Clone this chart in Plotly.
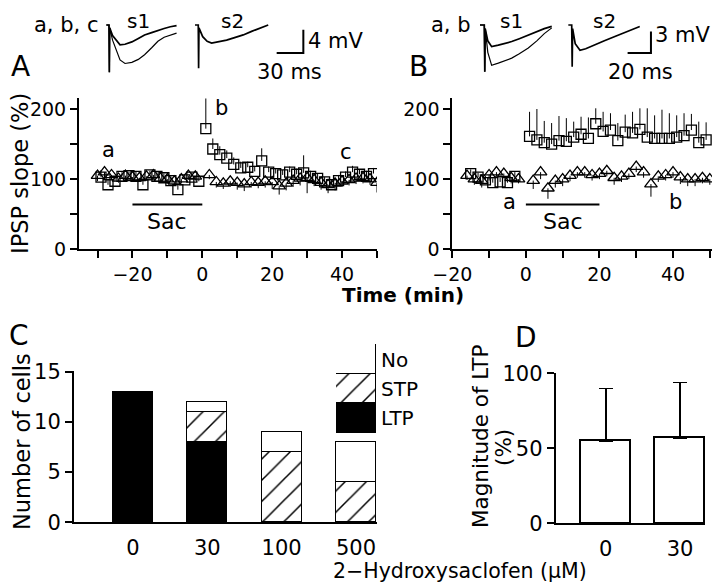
import plotly.graph_objects as go

W, H = 720, 588
OFF = 8  # page margin of the html body
FONT = "DejaVu Sans"


def fx(p):
    return (p - OFF) / W


def fy(p):
    return 1 - (p - OFF) / H


# ---------------- panel A : IPSP slope (%) vs time (min)
a_sq_t = [-29, -27, -25, -23, -21, -19, -17, -15, -13, -11, -9, -7, -5, -3, -1,
          1, 3, 5, 7, 9, 11, 13, 15, 17, 19, 21, 23, 25, 27, 29, 31, 33, 35, 37, 39,
          41, 43, 45, 47, 49]
a_sq_y = [103, 92, 97, 104, 105, 104, 92, 106, 104, 102, 98, 85, 99, 103, 97,
          172, 143, 135, 130, 121, 116, 117, 111, 126, 110, 108, 106, 110, 107, 109,
          104, 101, 96, 92, 98, 103, 110, 107, 104, 108]
a_sq_e = [10, 8, 7, 6, 6, 7, 6, 6, 6, 6, 6, 7, 6, 6, 8,
          43, 15, 12, 11, 10, 9, 8, 8, 18, 8, 8, 7, 8, 8, 25,
          8, 7, 7, 8, 8, 8, 9, 7, 8, 8]
a_tr_t = [-30, -28, -26, -24, -22, -20, -18, -16, -14, -12, -10, -8, -6, -4, -2,
          2, 4, 6, 8, 10, 12, 14, 16, 18, 20, 22, 24, 26, 28, 30, 32, 34, 36, 38, 40,
          42, 44, 46, 48, 50]
a_tr_y = [105, 110, 106, 101, 105, 103, 102, 104, 106, 101, 100, 97, 100, 105, 104,
          106, 96, 94, 97, 95, 93, 96, 95, 97, 96, 90, 94, 98, 101, 102,
          99, 95, 92, 94, 97, 99, 101, 102, 100, 95]
a_tr_e = [8, 10, 7, 6, 7, 6, 6, 6, 6, 6, 6, 6, 6, 6, 6,
          6, 8, 8, 8, 10, 10, 8, 8, 9, 10, 12, 10, 9, 10, 22,
          9, 10, 12, 10, 8, 8, 8, 8, 8, 14]
a_sac = [-20, 0]

# ---------------- panel B
b_sq_t = [-15, -13, -11, -9, -7, -5, -3,
          1, 3, 5, 7, 9, 11, 13, 15, 17, 19, 21, 23, 25, 27, 29, 31, 33, 35, 37, 39,
          41, 43, 45, 47, 49]
b_sq_y = [108, 103, 99, 95, 96, 95, 104,
          161, 156, 152, 150, 155, 154, 160, 164, 158, 179, 168, 170, 155, 167, 166,
          171, 160, 158, 158, 158, 160, 162, 170, 152, 156]
b_sq_e = [6, 6, 6, 6, 6, 6, 6,
          35, 44, 31, 30, 35, 33, 22, 25, 30, 22, 28, 24, 25, 25, 30, 30, 41, 33, 41,
          36, 31, 32, 23, 30, 25]
b_tr_t = [-16, -14, -12, -10, -8, -6, -4, -2,
          2, 4, 6, 8, 10, 12, 14, 16, 18, 20, 22, 24, 26, 28, 30, 32, 34, 36, 38, 40,
          42, 44, 46, 48, 50]
b_tr_y = [105, 100, 98, 106, 110, 108, 102, 100,
          98, 110, 87, 98, 100, 105, 110, 110, 106, 108, 112, 102, 104, 108, 118, 110,
          93, 104, 106, 110, 103, 100, 100, 102, 100]
b_tr_e = [6, 8, 10, 8, 6, 6, 8, 6,
          12, 10, 15, 10, 10, 8, 8, 8, 8, 8, 8, 10, 8, 8, 8, 8, 18, 8, 8, 8, 10, 10,
          10, 8, 8]
b_sac = [0, 20]

# ---------------- sample traces (ms, mV)
a_s1_t = [-3, 0, 0.4, 0.8, 4, 8.6, 12.4, 18, 25.7, 33, 40, 48, 55, 62, 69, 76]
a_s1_small = [0, 0, -8.1, -0.5, -1.8, -2.6, -3.4, -3.3, -2.9, -2.3, -1.7, -1.3, -0.9, -0.6, -0.3, -0.1]
a_s1_big = [0, 0, -8.1, -0.5, -2.6, -4.5, -6.0, -6.6, -6.4, -5.9, -5.1, -3.9, -2.8, -2.1, -1.7, -1.4]
a_s2_t = [-3.7, 0, 0.4, 0.8, 5, 10, 15, 22, 31.9, 40, 50.6, 60, 70, 78.7]
a_s2_v = [0, 0, -7.4, -0.5, -2.0, -2.8, -3.1, -2.9, -2.6, -2.2, -1.7, -1.1, -0.5, 0]
b_s1_t = [-3.7, 0, 0.4, 0.8, 3, 6.3, 12, 23.5, 30, 37.7, 45, 51.4, 57.8]
b_s1_small = [0, 0, -6.5, -0.5, -2.2, -3.0, -2.8, -2.3, -1.9, -1.4, -0.9, -0.5, -0.2]
b_s1_big = [0, 0, -6.5, -0.5, -3.8, -5.6, -5.3, -4.6, -4.0, -3.2, -2.2, -1.2, -0.4]
b_s2_t = [-2.9, 0, 0.4, 0.8, 3, 7.1, 12, 20, 28, 37, 47, 58.3]
b_s2_v = [0, 0, -5.8, -0.5, -2.6, -3.5, -3.3, -2.8, -2.2, -1.6, -0.9, -0.2]
a_scale_ms, a_scale_mv = 30, 4
b_scale_ms, b_scale_mv = 20, 3

# ---------------- panel C / D
conc = ["0", "30", "100", "500"]
n_ltp = [13, 8, 0, 0]
n_stp = [0, 3, 7, 4]
n_no = [0, 1, 2, 4]
key_names = ["LTP", "STP", "No"]

d_conc = ["0", "30"]
ltp_mag = [55, 57]
ltp_err = [35, 37]

fig = go.Figure()

sq_mk = dict(symbol="square-open", size=10, color="black", line=dict(width=1.3))
tr_mk = dict(symbol="triangle-up-open", size=11, color="black", line=dict(width=1.3))


def err_up(e):
    return dict(type="data", array=e, arrayminus=[0] * len(e), symmetric=False,
                color="black", thickness=1, width=0)


def err_dn(e):
    return dict(type="data", array=[0] * len(e), arrayminus=e, symmetric=False,
                color="black", thickness=1, width=0)


for xa, ya, tt, ty, te, st, sy, se, sac in [
        ("x", "y", a_tr_t, a_tr_y, a_tr_e, a_sq_t, a_sq_y, a_sq_e, a_sac),
        ("x2", "y2", b_tr_t, b_tr_y, b_tr_e, b_sq_t, b_sq_y, b_sq_e, b_sac)]:
    fig.add_trace(go.Scatter(x=tt, y=ty, mode="markers", marker=tr_mk,
                             error_y=err_dn(te), xaxis=xa, yaxis=ya))
    fig.add_trace(go.Scatter(x=st, y=sy, mode="markers", marker=sq_mk,
                             error_y=err_up(se), xaxis=xa, yaxis=ya))
    fig.add_trace(go.Scatter(x=sac, y=[64, 64], mode="lines",
                             line=dict(color="black", width=2), xaxis=xa, yaxis=ya))

# sample traces
tr_line = dict(color="black", width=1.7)
thin = dict(color="black", width=1.2)
fig.add_trace(go.Scatter(x=a_s1_t, y=a_s1_small, mode="lines", line=tr_line, xaxis="x5", yaxis="y5"))
fig.add_trace(go.Scatter(x=a_s1_t, y=a_s1_big, mode="lines", line=thin, xaxis="x5", yaxis="y5"))
fig.add_trace(go.Scatter(x=[t + 100.4 for t in a_s2_t], y=a_s2_v, mode="lines", line=tr_line, xaxis="x5", yaxis="y5"))
fig.add_trace(go.Scatter(x=[218.6 - a_scale_ms, 218.6, 218.6], y=[-4.8, -4.8, -4.8 + a_scale_mv],
                         mode="lines", line=dict(color="black", width=2), xaxis="x5", yaxis="y5"))
fig.add_trace(go.Scatter(x=b_s1_t, y=b_s1_small, mode="lines", line=tr_line, xaxis="x6", yaxis="y6"))
fig.add_trace(go.Scatter(x=b_s1_t, y=b_s1_big, mode="lines", line=thin, xaxis="x6", yaxis="y6"))
fig.add_trace(go.Scatter(x=[t + 74.9 for t in b_s2_t], y=b_s2_v, mode="lines", line=tr_line, xaxis="x6", yaxis="y6"))
fig.add_trace(go.Scatter(x=[142.8 - b_scale_ms, 142.8, 142.8], y=[-3.9, -3.9, -3.9 + b_scale_mv],
                         mode="lines", line=dict(color="black", width=2), xaxis="x6", yaxis="y6"))

# panel C stacked bars
hatch = dict(shape="/", fgcolor="black", bgcolor="white", size=15, solidity=0.1)
edge = dict(color="black", width=1.5)
fig.add_trace(go.Bar(x=conc, y=n_ltp, width=0.54, marker=dict(color="black", line=edge), xaxis="x3", yaxis="y3"))
fig.add_trace(go.Bar(x=conc, y=n_stp, width=0.54, marker=dict(color="white", line=edge, pattern=hatch), xaxis="x3", yaxis="y3"))
fig.add_trace(go.Bar(x=conc, y=n_no, width=0.54, marker=dict(color="white", line=edge), xaxis="x3", yaxis="y3"))

# key for panel C
key_style = [dict(color="black", line=edge),
             dict(color="white", line=edge, pattern=hatch),
             dict(color="white", line=edge)]
for name, mk in zip(key_names, key_style):
    fig.add_trace(go.Bar(x=["key"], y=[1], width=1, marker=mk, cliponaxis=False,
                         xaxis="x7", yaxis="y7"))

# panel D
fig.add_trace(go.Bar(x=d_conc, y=ltp_mag, width=0.67, marker=dict(color="white", line=edge),
                     error_y=dict(type="data", array=ltp_err, arrayminus=[0, 0], symmetric=False,
                                  color="black", thickness=1.5, width=7),
                     xaxis="x4", yaxis="y4"))

ax = dict(showline=True, linecolor="black", linewidth=2, ticks="outside", ticklen=7,
          tickwidth=2, tickcolor="black", showgrid=False, zeroline=False, automargin=False,
          tickfont=dict(family=FONT, size=19, color="black"))
big_tick = dict(family=FONT, size=21, color="black")
hidden = dict(visible=False, showgrid=False, zeroline=False, automargin=False)
M = "\u2212"

# sample-trace axes: px position of stimulus/baseline and px per unit
a_ms0, a_pxms, a_mv0, a_pxmv = 109, 0.889, 25, 5.83
b_ms0, b_pxms, b_mv0, b_pxmv = 484.3, 1.167, 25, 7.2

fig.update_layout(
    template="none",
    width=W, height=H, margin=dict(l=0, r=0, t=0, b=0, pad=0, autoexpand=False),
    paper_bgcolor="white", plot_bgcolor="white", showlegend=False,
    barmode="stack", bargap=0,
    xaxis=dict(ax, domain=[fx(79), fx(377)], range=[-35.3, 50], anchor="y",
               tickvals=[-30, -20, -10, 0, 10, 20, 30, 40, 50],
               ticktext=["", M + "20", "", "0", "", "20", "", "40", ""]),
    yaxis=dict(ax, domain=[fy(249.3), fy(98)], range=[0, 215.7], anchor="x",
               tickvals=[0, 50, 100, 150, 200], ticktext=["0", "", "100", "", "200"]),
    xaxis2=dict(ax, domain=[fx(452.3), fx(712)], range=[-20, 50.6], anchor="y2",
                tickvals=[-20, -10, 0, 10, 20, 30, 40, 50],
                ticktext=[M + "20", "", "0", "", "20", "", "40", ""]),
    yaxis2=dict(ax, domain=[fy(249.3), fy(98)], range=[0, 215.7], anchor="x2",
                tickvals=[0, 50, 100, 150, 200], ticktext=["0", "", "100", "", "200"]),
    xaxis3=dict(ax, type="category", domain=[fx(74), fx(377)], range=[-0.794, 3.283],
                anchor="y3", tickcolor="rgba(0,0,0,0)", ticklen=5, tickfont=big_tick),
    yaxis3=dict(ax, domain=[fy(522.3), fy(371)], range=[0, 15.07], anchor="x3",
                tickvals=[0, 5, 10, 15], tickfont=big_tick),
    xaxis4=dict(ax, type="category", domain=[fx(555.7), fx(705)], range=[-0.675, 1.337],
                anchor="y4", tickcolor="rgba(0,0,0,0)", ticklen=5, tickfont=big_tick),
    yaxis4=dict(ax, domain=[fy(523.3), fy(372.7)], range=[0, 100.5], anchor="x4",
                tickvals=[0, 50, 100], tickfont=big_tick),
    xaxis5=dict(hidden, domain=[fx(8), fx(360)], anchor="y5",
                range=[(8 - a_ms0) / a_pxms, (360 - a_ms0) / a_pxms]),
    yaxis5=dict(hidden, domain=[fy(90), fy(8)], anchor="x5",
                range=[(a_mv0 - 90) / a_pxmv, (a_mv0 - 8) / a_pxmv]),
    xaxis6=dict(hidden, domain=[fx(360), fx(720)], anchor="y6",
                range=[(360 - b_ms0) / b_pxms, (720 - b_ms0) / b_pxms]),
    yaxis6=dict(hidden, domain=[fy(90), fy(8)], anchor="x6",
                range=[(b_mv0 - 90) / b_pxmv, (b_mv0 - 8) / b_pxmv]),
    xaxis7=dict(hidden, type="category", domain=[fx(336), fx(376)], range=[-0.5, 0.5], anchor="y7"),
    yaxis7=dict(hidden, domain=[fy(433), fy(344)], range=[0, 3], anchor="x7"),
)


def note(text, x, y, size=21, xanchor="center", angle=0, bold=False, ref=("paper", "paper")):
    if bold:
        text = "<b>" + text + "</b>"
    fig.add_annotation(text=text, x=x, y=y, xref=ref[0], yref=ref[1], showarrow=False,
                       xanchor=xanchor, yanchor="middle", textangle=angle, borderpad=0,
                       font=dict(family=FONT, size=size, color="black"))


# panel letters
note("A", fx(21), fy(66), size=28)
note("B", fx(418), fy(66), size=28)
note("C", fx(19), fy(335), size=28)
note("D", fx(526), fy(337), size=28)

# trace labels
note("a, b, c", fx(99), fy(25), xanchor="right")
note("s1", fx(138), fy(21), size=20)
note("s2", fx(232), fy(21), size=20)
note("4 mV", fx(307), fy(41), xanchor="left")
note("30 ms", fx(289), fy(72))
note("a, b", fx(472), fy(25), xanchor="right")
note("s1", fx(512), fy(21), size=20)
note("s2", fx(604), fy(21), size=20)
note("3 mV", fx(654), fy(35), xanchor="left")
note("20 ms", fx(640), fy(72))

# in-plot labels
for txt, x, y, ref in [("a", -26.8, 141, ("x", "y")), ("b", 3.3, 201, ("x", "y")),
                       ("c", 41, 139, ("x", "y")), ("Sac", -10, 39, ("x", "y")),
                       ("a", -4.4, 68, ("x2", "y2")), ("b", 40.7, 68, ("x2", "y2")),
                       ("Sac", 10, 39, ("x2", "y2"))]:
    note(txt, x, y, size=22 if txt == "Sac" else 21, ref=ref,
         xanchor="left" if txt == "b" and ref[0] == "x" else "center")

# axis titles
note("IPSP slope (%)", fx(20), fy(174), size=22.5, angle=-90)
note("Time (min)", fx(403), fy(295), size=20, bold=True)
note("Number of cells", fx(22), fy(442), size=22.5, angle=-90)
note("Magnitude of LTP", fx(480), fy(437), size=21.5, angle=-90)
note("(%)", fx(503), fy(448), size=21.5, angle=-90)
note("2\u2212Hydroxysaclofen (\u03bcM)", fx(460), fy(571), size=20.5)

# key labels
note("No", fx(380), fy(360), size=20, xanchor="left")
note("STP", fx(380), fy(389), size=20, xanchor="left")
note("LTP", fx(380), fy(418), size=20, xanchor="left")

fig.write_html("out.html")
